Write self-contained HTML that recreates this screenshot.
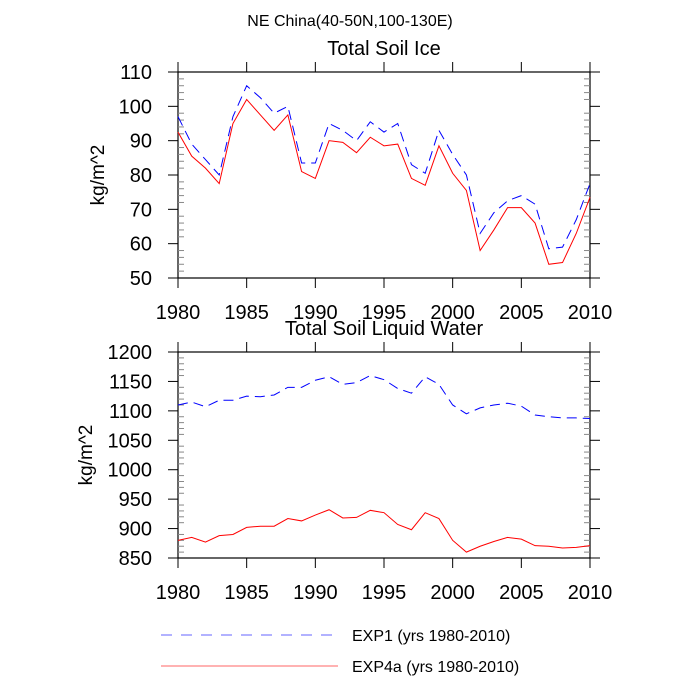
<!DOCTYPE html>
<html><head><meta charset="utf-8"><style>body{margin:0;background:#fff}svg{display:block;font-family:"Liberation Sans",sans-serif}</style></head>
<body>
<svg id="c" width="700" height="700" viewBox="0 0 700 700">
<text x="350" y="26" text-anchor="middle" font-size="16">NE China(40-50N,100-130E)</text>
<g id="g"></g>
<line x1="161" y1="635" x2="338" y2="635" stroke="#6666ff" stroke-dasharray="11,9"/>
<text x="352" y="641" font-size="16">EXP1 (yrs 1980-2010)</text>
<line x1="161" y1="666" x2="338" y2="666" stroke="#ff6666"/>
<text x="352" y="672" font-size="16">EXP4a (yrs 1980-2010)</text>
</svg>
<script>
const years=[];for(let y=1980;y<=2010;y++)years.push(y);
const xTicks=[1980,1985,1990,1995,2000,2005,2010];
const iceExp1=[97,89,84.5,80,97,106,102.5,98,100,83.5,83.5,95,93,90,95.5,92.5,95,83,80.5,93,86,80,63,69,72.5,74,71.5,58.5,59,67,77.5];
const iceExp4a=[92.5,85.5,82,77.5,95,102,97.5,93,97.5,81,79,90,89.5,86.5,91,88.5,89,79,77,88.5,80.5,75.5,58,64,70.5,70.5,66,54,54.5,63,73.5];
const iceTicks=[50,60,70,80,90,100,110];
const liqExp1=[1110,1115,1107,1118,1118,1125,1124,1127,1140,1140,1152,1158,1145,1148,1160,1153,1138,1130,1158,1145,1110,1095,1105,1110,1113,1108,1093,1090,1088,1088,1087];
const liqExp4a=[880,885,877,888,890,902,904,904,917,913,923,932,918,919,931,927,907,898,927,917,880,860,870,878,885,882,871,870,867,868,871];
const liqTicks=[850,900,950,1000,1050,1100,1150,1200];
const NS='http://www.w3.org/2000/svg',G=document.getElementById('g');
function mk(t,a,p){const e=document.createElementNS(NS,t);for(const k in a)e.setAttribute(k,a[k]);(p||G).appendChild(e);return e;}
function panel(o){
const L=178,R=590,T=o.top,B=o.top+206;
const x=v=>L+(v-1980)/30*(R-L);
const y=v=>B-(v-o.min)/(o.max-o.min)*(B-T);
const g=mk('g',{});


const t=mk('text',{x:384,y:T-17,'text-anchor':'middle','font-size':20},g);t.textContent=o.title;


mk('rect',{x:L,y:T,width:R-L,height:B-T,fill:'none',stroke:'#000','stroke-width':1.2},g);
xTicks.forEach(v=>{mk('line',{x1:x(v),x2:x(v),y1:B,y2:B+10,stroke:'#000'},g);mk('line',{x1:x(v),x2:x(v),y1:T,y2:T-10,stroke:'#000'},g);
const l=mk('text',{x:x(v),y:B+41,'text-anchor':'middle','font-size':20},g);l.textContent=v;

});
for(let v=o.min;v<=o.max+1e-9;v+=o.minor){const maj=Math.abs(((v-o.min)/o.step)-Math.round((v-o.min)/o.step))<1e-6;
if(maj){mk('line',{x1:L-10,x2:L,y1:y(v),y2:y(v),stroke:'#000'},g);mk('line',{x1:R,x2:R+10,y1:y(v),y2:y(v),stroke:'#000'},g);}
else{mk('line',{x1:L,x2:L+6,y1:y(v),y2:y(v),stroke:'#888'},g);mk('line',{x1:R,x2:R-6,y1:y(v),y2:y(v),stroke:'#888'},g);}}
o.ticks.forEach(v=>{const l=mk('text',{x:L-26,y:y(v)+7,'text-anchor':'end','font-size':20},g);l.textContent=v;

});
const yt=mk('text',{x:0,y:0,'text-anchor':'middle','font-size':19,transform:`translate(${o.ylx},${(T+B)/2}) rotate(-90)`},g);yt.textContent='kg/m^2';


const p1=mk('polyline',{points:o.a.map((v,i)=>x(years[i])+','+y(v)).join(' '),fill:'none',stroke:'#0000ff','stroke-dasharray':'10,6'},g);


const p2=mk('polyline',{points:o.b.map((v,i)=>x(years[i])+','+y(v)).join(' '),fill:'none',stroke:'#ff0000'},g);


}
panel({name:'ice-panel',title:'Total Soil Ice',top:72,min:50,max:110,step:10,minor:2,ticks:iceTicks,a:iceExp1,b:iceExp4a,ylx:104});
panel({name:'liquid-panel',title:'Total Soil Liquid Water',top:352,min:850,max:1200,step:50,minor:10,ticks:liqTicks,a:liqExp1,b:liqExp4a,ylx:92});
</script>
</body></html>
